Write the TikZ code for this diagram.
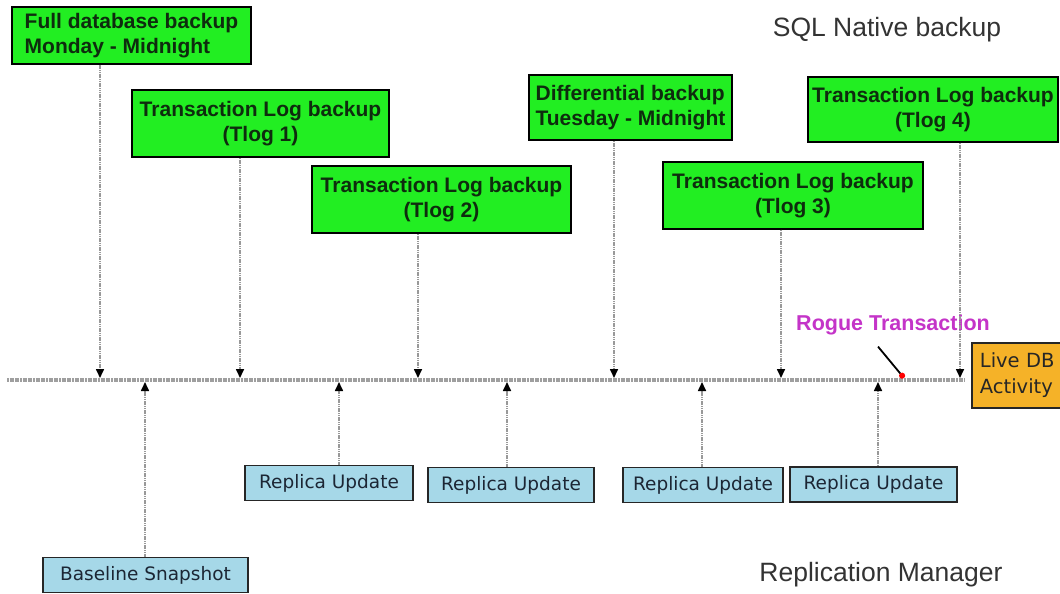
\documentclass[tikz,border=0pt]{standalone}
\usepackage{fontspec}
\setmainfont{Liberation Sans}
\newfontfamily\dejavu{DejaVu Sans}
\usetikzlibrary{arrows.meta}
\definecolor{bkgreen}{RGB}{34,238,34}
\definecolor{bktext}{RGB}{14,44,14}
\definecolor{replblue}{RGB}{166,216,232}
\definecolor{replink}{RGB}{28,38,52}
\definecolor{liveorange}{RGB}{245,178,40}
\definecolor{roguemag}{RGB}{196,52,200}

\begin{document}
\begin{tikzpicture}[
    x=1pt, y=-1pt,
    bkup/.style={draw=black,line width=1.4pt,fill=bkgreen,text=bktext,inner sep=2pt,align=center,
      font=\fontsize{21}{25}\selectfont\bfseries},
    repl/.style={draw=black!85,line width=1.8pt,fill=replblue,text=replink,minimum height=35pt,
      font=\dejavu\fontsize{18.5}{22}\selectfont},
    caption/.style={text=black!80,font=\fontsize{26.5}{31}\selectfont},
    axis/.style={draw=gray!75,line width=3.2pt,dash pattern=on 2pt off 0.6pt},
    tick/.style={draw=gray!80,line width=1.6pt,dash pattern=on 1.2pt off 0.6pt,-{Triangle[black,length=9pt,width=8pt]}},
    rogarr/.style={draw=black,line width=1.8pt,-{Circle[red,length=6pt]}}]
  \clip (0,0) rectangle (1060,594);
  \node[bkup,align=left,minimum width=239pt,minimum height=57pt] (full) at (131.5,35.5) {Full database backup\\Monday - Midnight};
  \node[bkup,minimum width=257pt,minimum height=67pt] (tlog1) at (260.5,123.5) {Transaction Log backup\\(Tlog 1)};
  \node[bkup,minimum width=259pt,minimum height=67pt] (tlog2) at (441.5,199.5) {Transaction Log backup\\(Tlog 2)};
  \node[bkup,align=left,minimum width=203pt,minimum height=65pt] (diff) at (630.5,107.5) {Differential backup\\Tuesday - Midnight};
  \node[bkup,minimum width=260pt,minimum height=67pt] (tlog3) at (793,195.5) {Transaction Log backup\\(Tlog 3)};
  \node[bkup,minimum width=250pt,minimum height=65pt] (tlog4) at (933,109.5) {Transaction Log backup\\(Tlog 4)};
  \node[caption] (sqlnat) at (887,30) {SQL Native backup};
  \node[caption] (replmgr) at (881,575) {Replication Manager};
  \node[text=roguemag,font=\fontsize{21.5}{25}\selectfont\bfseries] (rogue) at (893,325) {Rogue Transaction};
  \node[draw=black!85,line width=1.8pt,fill=liveorange,text=black!85,anchor=north west,align=left,
    text width=84pt,inner xsep=8pt,minimum height=65pt,font=\dejavu\fontsize{19.5}{26}\selectfont] (live) at (971,342) {Live DB\\Activity};
  \node[repl,minimum width=205pt] (base) at (145.5,575) {Baseline Snapshot};
  \node[repl,minimum width=168pt] (rep1) at (329,483) {Replica Update};
  \node[repl,minimum width=166pt] (rep2) at (511,485) {Replica Update};
  \node[repl,minimum width=160pt] (rep3) at (703,485) {Replica Update};
  \node[repl,minimum width=167pt] (rep4) at (873.5,484.5) {Replica Update};
  \coordinate (tlstart) at (7,380);
  \coordinate (tlend) at (965,380);
  \draw[axis] (tlstart) -- (tlend);
  \coordinate (d1) at (100,378);
  \coordinate (d2) at (240,378);
  \coordinate (d3) at (418,378);
  \coordinate (d4) at (614,378);
  \coordinate (d5) at (781,378);
  \coordinate (d6) at (960,378);
  \draw[tick] (full.south -| d1) -- (d1);
  \draw[tick] (tlog1.south -| d2) -- (d2);
  \draw[tick] (tlog2.south -| d3) -- (d3);
  \draw[tick] (diff.south -| d4) -- (d4);
  \draw[tick] (tlog3.south -| d5) -- (d5);
  \draw[tick] (tlog4.south -| d6) -- (d6);
  \coordinate (u1) at (145,382);
  \coordinate (u2) at (339,382);
  \coordinate (u3) at (507,382);
  \coordinate (u4) at (702,382);
  \coordinate (u5) at (878,382);
  \draw[tick] (base.north -| u1) -- (u1);
  \draw[tick] (rep1.north -| u2) -- (u2);
  \draw[tick] (rep2.north -| u3) -- (u3);
  \draw[tick] (rep3.north -| u4) -- (u4);
  \draw[tick] (rep4.north -| u5) -- (u5);
  \coordinate (rgtip) at (904,378);
  \draw[rogarr] ([xshift=-15pt,yshift=-8pt]rogue.south) -- (rgtip);
\end{tikzpicture}
\end{document}
